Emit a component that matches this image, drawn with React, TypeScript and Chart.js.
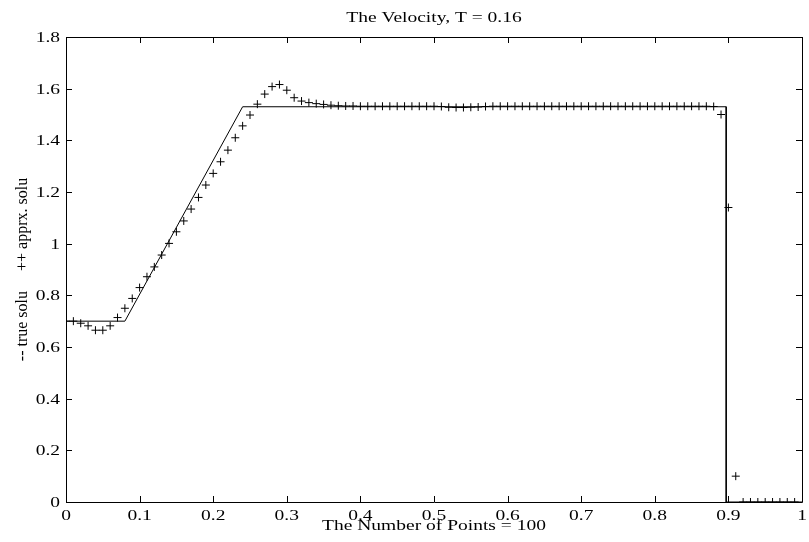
import React, { useEffect, useRef } from "react";
import { Chart, registerables } from "chart.js";

Chart.register(...registerables);

// ---- data ----
const TITLE = "The Velocity, T = 0.16";
const X_LABEL = "The Number of Points = 100";
const Y_LABEL = "-- true solu     ++ apprx. solu";

// exact (true) solution: piecewise linear breakpoints
const trueX = [0, 0.08, 0.24, 0.897, 0.897, 1.0];
const trueY = [0.7, 0.7, 1.53, 1.53, 0, 0];

// approximate solution at 100 grid points (x = i / 100)
const approxY = [
  0.7, 0.7, 0.692, 0.682, 0.665, 0.665, 0.682, 0.714, 0.75, 0.788,
  0.83, 0.872, 0.91, 0.956, 1.001, 1.046, 1.088, 1.134, 1.179, 1.227,
  1.272, 1.317, 1.362, 1.41, 1.456, 1.498, 1.54, 1.579, 1.608, 1.616,
  1.594, 1.565, 1.552, 1.546, 1.542, 1.539, 1.536, 1.534, 1.533, 1.533,
  1.532, 1.532, 1.532, 1.532, 1.532, 1.532, 1.532, 1.532, 1.532, 1.532,
  1.532, 1.531, 1.528, 1.527, 1.527, 1.528, 1.529, 1.531, 1.532, 1.532,
  1.532, 1.532, 1.532, 1.532, 1.532, 1.532, 1.532, 1.532, 1.532, 1.532,
  1.532, 1.532, 1.532, 1.532, 1.532, 1.532, 1.532, 1.532, 1.532, 1.532,
  1.532, 1.532, 1.532, 1.532, 1.532, 1.532, 1.532, 1.532, 1.531, 1.5,
  1.14, 0.1, 0, 0, 0, 0, 0, 0, 0, 0,
];
const gridStep = 0.01;

const xTicks = [0, 0.1, 0.2, 0.3, 0.4, 0.5, 0.6, 0.7, 0.8, 0.9, 1];
const xTickLabels = ["0", "0.1", "0.2", "0.3", "0.4", "0.5", "0.6", "0.7", "0.8", "0.9", "1"];
const yTicks = [0, 0.2, 0.4, 0.6, 0.8, 1, 1.2, 1.4, 1.6, 1.8];
const yTickLabels = ["0", "0.2", "0.4", "0.6", "0.8", "1", "1.2", "1.4", "1.6", "1.8"];

const SERIF = "'Liberation Serif', 'Times New Roman', serif";
const TEXT_STRETCH = 1.3; // the reference's text is horizontally widened

function drawText(ctx: CanvasRenderingContext2D, text: string, x: number, y: number, align: CanvasTextAlign, size: number, rotate = false) {
  ctx.save();
  ctx.font = `${size}px ${SERIF}`;
  ctx.fillStyle = "#000";
  ctx.textAlign = align;
  ctx.textBaseline = "alphabetic";
  ctx.translate(x, y);
  if (rotate) {
    ctx.rotate(-Math.PI / 2);
  } else {
    ctx.scale(TEXT_STRETCH, 1);
  }
  ctx.fillText(text, 0, 0);
  ctx.restore();
}

const frameAndTextPlugin = {
  id: "frameAndText",
  afterDatasetsDraw(chart: any) {
    const { ctx, chartArea, scales } = chart;
    const { left, right, top, bottom } = chartArea;
    const len = 6;
    ctx.save();
    ctx.strokeStyle = "#000";
    ctx.lineWidth = 1;
    ctx.beginPath();
    ctx.rect(Math.round(left) + 0.5, Math.round(top) + 0.5, Math.round(right - left), Math.round(bottom - top));
    ctx.stroke();
    ctx.beginPath();
    for (const v of xTicks) {
      const px = Math.round(scales.x.getPixelForValue(v)) + 0.5;
      ctx.moveTo(px, bottom);
      ctx.lineTo(px, bottom - len);
      ctx.moveTo(px, top);
      ctx.lineTo(px, top + len);
    }
    for (const v of yTicks) {
      const py = Math.round(scales.y.getPixelForValue(v)) + 0.5;
      ctx.moveTo(left, py);
      ctx.lineTo(left + len, py);
      ctx.moveTo(right, py);
      ctx.lineTo(right - len, py);
    }
    ctx.stroke();
    ctx.restore();

    // tick labels
    xTicks.forEach((v, i) => {
      drawText(ctx, xTickLabels[i], scales.x.getPixelForValue(v), bottom + 18, "center", 15);
    });
    yTicks.forEach((v, i) => {
      drawText(ctx, yTickLabels[i], left - 6, scales.y.getPixelForValue(v) + 5, "right", 15);
    });
    // titles
    const cx = (left + right) / 2;
    drawText(ctx, TITLE, cx, top - 15, "center", 15);
    drawText(ctx, X_LABEL, cx, bottom + 28, "center", 15);
    drawText(ctx, Y_LABEL, 27, (top + bottom) / 2, "center", 16, true);
  },
};

export default function App() {
  const ref = useRef<HTMLCanvasElement | null>(null);

  useEffect(() => {
    if (!ref.current) return;
    const trueData = trueX.map((x, i) => ({ x, y: trueY[i] }));
    const approxData = approxY.map((y, i) => ({ x: i * gridStep, y }));

    const chart = new Chart(ref.current, {
      type: "scatter",
      data: {
        datasets: [
          {
            label: "true solu",
            data: trueData,
            showLine: true,
            borderColor: "#000",
            backgroundColor: "#000",
            borderWidth: 1,
            pointRadius: 0,
            tension: 0,
          },
          {
            label: "apprx. solu",
            data: approxData,
            showLine: false,
            pointStyle: "cross",
            pointRadius: 4,
            borderColor: "#000",
            backgroundColor: "#000",
            pointBorderWidth: 1,
          },
        ],
      },
      options: {
        responsive: false,
        animation: false,
        layout: { padding: { left: 0, right: 7, top: 37, bottom: 0 } },
        plugins: {
          legend: { display: false },
          tooltip: { enabled: false },
          title: { display: false },
        },
        scales: {
          x: {
            type: "linear",
            min: 0,
            max: 1,
            afterBuildTicks: (s: any) => {
              s.ticks = xTicks.map((v) => ({ value: v }));
            },
            ticks: { display: false },
            grid: { display: false, drawTicks: false },
            border: { display: false },
            afterFit: (s: any) => {
              s.height = 40;
            },
          },
          y: {
            type: "linear",
            min: 0,
            max: 1.8,
            afterBuildTicks: (s: any) => {
              s.ticks = yTicks.map((v) => ({ value: v }));
            },
            ticks: { display: false },
            grid: { display: false, drawTicks: false },
            border: { display: false },
            afterFit: (s: any) => {
              s.width = 66;
            },
          },
        },
      },
      plugins: [frameAndTextPlugin],
    });
    return () => chart.destroy();
  }, []);

  return (
    <div style={{ position: "absolute", left: 0, top: 0, width: 809, height: 542, background: "#fff" }}>
      <canvas ref={ref} width={809} height={542} style={{ display: "block" }} />
    </div>
  );
}
